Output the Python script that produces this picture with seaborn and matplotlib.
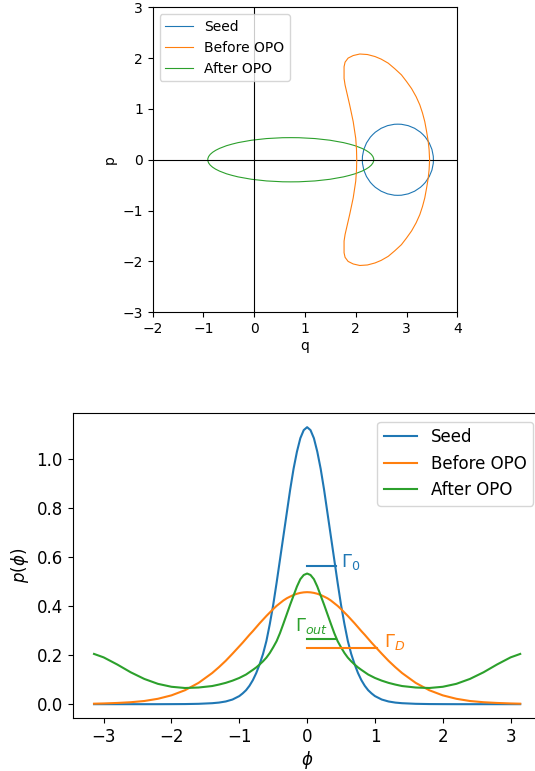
import matplotlib
matplotlib.use("Agg")
import matplotlib.pyplot as plt
from matplotlib.patches import Ellipse
from matplotlib.lines import Line2D
import seaborn as sns

# ---- phase-space picture (top) ----
SEED_CENTER = (2.83, 0.0)
SEED_RADIUS = 0.70
AFTER_CENTER = (0.72, 0.0)
AFTER_WIDTH = 3.27
AFTER_HEIGHT = 0.87

# closed contour of the "Before OPO" state, traced counter-clockwise
BEFORE_Q = [3.455, 3.445, 3.425, 3.395, 3.36, 3.315, 3.262, 3.19, 3.10, 3.00, 2.90, 2.77,
            2.64, 2.50, 2.38, 2.23, 2.08, 1.95, 1.85, 1.79, 1.77, 1.77, 1.79, 1.82,
            1.88, 1.95, 2.00, 2.015, 2.02,
            2.015, 2.00, 1.95, 1.88, 1.82, 1.79, 1.77, 1.77, 1.79, 1.85, 1.95, 2.08,
            2.23, 2.38, 2.50, 2.64, 2.77, 2.90, 3.00, 3.10, 3.19, 3.262, 3.315, 3.36,
            3.395, 3.425, 3.445, 3.455]
BEFORE_P = [0.00, 0.20, 0.38, 0.56, 0.75, 0.92, 1.08, 1.24, 1.40, 1.54, 1.67, 1.79,
            1.90, 1.98, 2.03, 2.07, 2.08, 2.05, 2.00, 1.92, 1.83, 1.60, 1.47, 1.34,
            1.08, 0.75, 0.42, 0.20, 0.00,
            -0.20, -0.42, -0.75, -1.08, -1.34, -1.47, -1.60, -1.83, -1.92, -2.00, -2.05, -2.08,
            -2.07, -2.03, -1.98, -1.90, -1.79, -1.67, -1.54, -1.40, -1.24, -1.08, -0.92, -0.75,
            -0.56, -0.38, -0.20, 0.00]

# ---- phase distributions (bottom) ----
PHI = [-3.1416, -3.0, -2.8, -2.6, -2.4, -2.2, -2.0, -1.8, -1.6, -1.4,
       -1.3, -1.2, -1.1, -1.0,
       -0.95, -0.9, -0.85, -0.8, -0.75, -0.7, -0.65, -0.6, -0.55, -0.5,
       -0.45, -0.4, -0.35, -0.3, -0.25, -0.2, -0.15, -0.1, -0.05,
       0.0,
       0.05, 0.1, 0.15, 0.2, 0.25, 0.3, 0.35, 0.4, 0.45,
       0.5, 0.55, 0.6, 0.65, 0.7, 0.75, 0.8, 0.85, 0.9, 0.95,
       1.0, 1.1, 1.2, 1.3,
       1.4, 1.6, 1.8, 2.0, 2.2, 2.4, 2.6, 2.8, 3.0, 3.1416]
SEED = [0.0, 0.0, 0.0, 0.0, 0.0, 0.0, 0.0002, 0.0005, 0.0015, 0.004,
        0.0065, 0.011, 0.019, 0.033,
        0.044, 0.057, 0.075, 0.098, 0.127, 0.163, 0.205, 0.258, 0.327, 0.405,
        0.495, 0.590, 0.685, 0.780, 0.875, 0.960, 1.030, 1.085, 1.118,
        1.130,
        1.118, 1.085, 1.030, 0.960, 0.875, 0.780, 0.685, 0.590, 0.495,
        0.405, 0.327, 0.258, 0.205, 0.163, 0.127, 0.098, 0.075, 0.057, 0.044,
        0.033, 0.019, 0.011, 0.0065,
        0.004, 0.0015, 0.0005, 0.0002, 0.0, 0.0, 0.0, 0.0, 0.0, 0.0]
BEFORE = [0.002, 0.003, 0.005, 0.008, 0.013, 0.022, 0.036, 0.057, 0.087, 0.127,
          0.151, 0.177, 0.206, 0.236,
          0.251, 0.267, 0.283, 0.298, 0.314, 0.330, 0.345, 0.360, 0.374, 0.388,
          0.401, 0.412, 0.423, 0.432, 0.439, 0.4455, 0.4505, 0.454, 0.4562,
          0.457,
          0.4562, 0.454, 0.4505, 0.4455, 0.439, 0.432, 0.423, 0.412, 0.401,
          0.388, 0.374, 0.360, 0.345, 0.330, 0.314, 0.298, 0.283, 0.267, 0.251,
          0.236, 0.206, 0.177, 0.151,
          0.127, 0.087, 0.057, 0.036, 0.022, 0.013, 0.008, 0.005, 0.003, 0.002]
AFTER = [0.205, 0.191, 0.162, 0.130, 0.103, 0.083, 0.071, 0.066, 0.068, 0.074,
         0.080, 0.087, 0.096, 0.107,
         0.114, 0.121, 0.1305, 0.140, 0.150, 0.162, 0.175, 0.190, 0.209, 0.232,
         0.257, 0.290, 0.328, 0.367, 0.406, 0.443, 0.480, 0.510, 0.527,
         0.533,
         0.527, 0.510, 0.480, 0.443, 0.406, 0.367, 0.328, 0.290, 0.257,
         0.232, 0.209, 0.190, 0.175, 0.162, 0.150, 0.140, 0.1305, 0.121, 0.114,
         0.107, 0.096, 0.087, 0.080,
         0.074, 0.068, 0.066, 0.071, 0.083, 0.103, 0.130, 0.162, 0.191, 0.205]

# widths (half width markers) and their labels
WIDTH_Y = [0.565, 0.265, 0.229]
WIDTH_END = [0.42, 0.43, 1.03]
WIDTH_TEXT = [r"$\Gamma_0$", r"$\Gamma_{out}$", r"$\Gamma_D$"]
TEXT_X = [0.505, -0.185, 1.13]
TEXT_Y = [0.558, 0.300, 0.234]
WIDTH_COLORS = ["C0", "C2", "C1"]

fig = plt.figure(figsize=(5.35, 7.71), dpi=100)

# top panel
ax1 = fig.add_axes([0.2854, 0.5950, 0.5693, 0.3956])
ax1.axhline(0, color="black", lw=0.8)
ax1.axvline(0, color="black", lw=0.8)
ax1.add_patch(Ellipse(SEED_CENTER, 2 * SEED_RADIUS, 2 * SEED_RADIUS,
                      fill=False, color="C0", lw=0.8))
sns.lineplot(x=BEFORE_Q, y=BEFORE_P, sort=False, estimator=None,
             color="C1", lw=0.8, ax=ax1)
ax1.add_patch(Ellipse(AFTER_CENTER, AFTER_WIDTH, AFTER_HEIGHT,
                      fill=False, color="C2", lw=0.8))
ax1.set_xlim(-2, 4)
ax1.set_ylim(-3, 3)
ax1.set_xticks(range(-2, 5))
ax1.set_yticks(range(-3, 4))
ax1.tick_params(labelsize=10)
ax1.set_xlabel("q", fontsize=10, labelpad=2)
ax1.set_ylabel("p", fontsize=10)
handles = [Line2D([], [], color=c, lw=0.8) for c in ["C0", "C1", "C2"]]
ax1.legend(handles, ["Seed", "Before OPO", "After OPO"], loc="upper left", fontsize=10)

# bottom panel
ax2 = fig.add_axes([0.1359, 0.0687, 0.8763, 0.3952])
sns.lineplot(x=PHI, y=SEED, color="C0", lw=1.5, label="Seed", ax=ax2)
sns.lineplot(x=PHI, y=BEFORE, color="C1", lw=1.5, label="Before OPO", ax=ax2)
sns.lineplot(x=PHI, y=AFTER, color="C2", lw=1.5, label="After OPO", ax=ax2)
for y, x_end, txt, tx, ty, c in zip(WIDTH_Y, WIDTH_END, WIDTH_TEXT, TEXT_X, TEXT_Y, WIDTH_COLORS):
    ax2.plot([0, x_end], [y, y], color=c, lw=1.5)
    ax2.text(tx, ty, txt, color=c, fontsize=13)
ax2.set_xticks([-3, -2, -1, 0, 1, 2, 3])
ax2.tick_params(labelsize=12)
ax2.set_xlabel(r"$\phi$", fontsize=12, labelpad=2)
ax2.set_ylabel(r"$p(\phi)$", fontsize=12)
ax2.legend(loc="upper right", fontsize=12)

fig.savefig("out.png", dpi=100)
